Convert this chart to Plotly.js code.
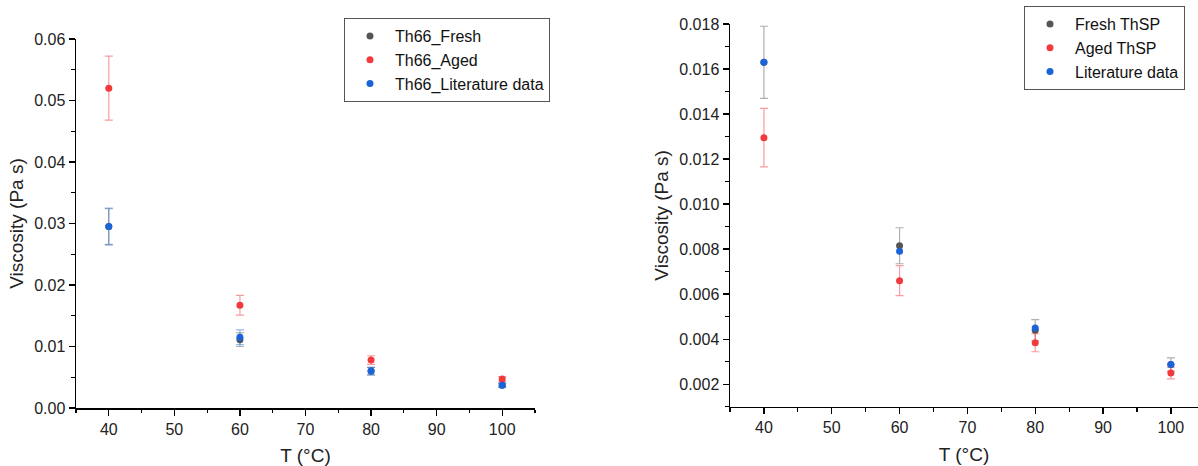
<!DOCTYPE html>
<html>
<head>
<meta charset="utf-8">
<script src="https://cdn.plot.ly/plotly-3.0.1.min.js"></script>
<style>html,body{margin:0;padding:0;background:#fff;}#chart{width:1198px;height:466px;}</style>
</head>
<body>
<div id="chart"></div>
<script>
// ---- data ----
const temps = [40, 60, 80, 100];

// left panel (Th66)
const th66Fresh = [0.0295, 0.0111, 0.0060, 0.0037];
const th66FreshErr = [0.0029, 0.0011, 0.0006, 0.0003];
const th66Aged = [0.0520, 0.0167, 0.0078, 0.0047];
const th66AgedErr = [0.0052, 0.0016, 0.0007, 0.0004];
const th66Lit = [0.0295, 0.0115, 0.0060, 0.0037];
const th66LitErr = [0.0030, 0.0012, 0.0006, 0.0003];

// right panel (ThSP)
const thspFresh = [0.0163, 0.00815, 0.0044, 0.00287];
const thspFreshErr = [0.0016, 0.0008, 0.00047, 0.0003];
const thspAged = [0.01295, 0.0066, 0.00384, 0.0025];
const thspAgedErr = [0.0013, 0.00067, 0.0004, 0.00026];
const thspLit = [0.0163, 0.0079, 0.0045, 0.00287];

const leftNames = ['Th66_Fresh', 'Th66_Aged', 'Th66_Literature data'];
const rightNames = ['Fresh ThSP', 'Aged ThSP', 'Literature data'];

// ---- styles ----
const cGray = '#555555', cRed = '#f2393c', cBlue = '#1b63d8';
const eGray = 'rgba(110,110,110,0.55)', eRed = 'rgba(242,57,60,0.5)', eBlue = 'rgba(27,99,216,0.45)';
const font = 'Liberation Sans, Arial, sans-serif';

function tr(x, y, err, name, color, ecolor, xa, ya, leg) {
  const t = {
    x: x, y: y, name: name, type: 'scatter', mode: 'markers',
    xaxis: xa, yaxis: ya, legend: leg,
    marker: {color: color, size: 7}
  };
  if (err) t.error_y = {type: 'data', array: err, visible: true, color: ecolor, thickness: 1.2, width: 4};
  return t;
}

const data = [
  tr(temps, th66Fresh, th66FreshErr, leftNames[0], cGray, eGray, 'x', 'y', 'legend'),
  tr(temps, th66Aged, th66AgedErr, leftNames[1], cRed, eRed, 'x', 'y', 'legend'),
  tr(temps, th66Lit, th66LitErr, leftNames[2], cBlue, eBlue, 'x', 'y', 'legend'),
  tr(temps, thspFresh, thspFreshErr, rightNames[0], cGray, eGray, 'x2', 'y2', 'legend2'),
  tr(temps, thspAged, thspAgedErr, rightNames[1], cRed, eRed, 'x2', 'y2', 'legend2'),
  tr(temps, thspLit, null, rightNames[2], cBlue, eBlue, 'x2', 'y2', 'legend2')
];

const W = 1198, H = 466;
function axBase() {
  return {
    showline: true, linecolor: '#000', linewidth: 1.5, ticks: 'outside', ticklen: 6,
    tickwidth: 1.3, tickcolor: '#000', showgrid: false, zeroline: false,
    tickfont: {family: font, size: 16, color: '#222'},
    title: {font: {family: font, size: 19, color: '#222'}}
  };
}

const xa = Object.assign(axBase(), {
  domain: [76 / W, 535 / W], range: [35, 105], dtick: 10, tick0: 0, anchor: 'y',
  minor: {dtick: 5, ticklen: 3.5, tickcolor: '#000', tickwidth: 1.1, ticks: 'outside'},
});
xa.title.text = 'T (°C)'; xa.title.standoff = 12;
const ya = Object.assign(axBase(), {
  domain: [1 - 408 / H, 1 - 39 / H], range: [0, 0.06], dtick: 0.01, tick0: 0, tickformat: '.2f', anchor: 'x',
  minor: {dtick: 0.005, ticklen: 3.5, tickcolor: '#000', tickwidth: 1.1, ticks: 'outside'},
});
ya.title.text = 'Viscosity (Pa s)'; ya.title.standoff = 5;

const xa2 = Object.assign(axBase(), {
  domain: [730 / W, 1], range: [35, 104], dtick: 10, tick0: 0, anchor: 'y2',
  minor: {dtick: 5, ticklen: 3.5, tickcolor: '#000', tickwidth: 1.1, ticks: 'outside'},
});
xa2.title.text = 'T (°C)'; xa2.title.standoff = 12;
const ya2 = Object.assign(axBase(), {
  domain: [1 - 406.7 / H, 1 - 24 / H], range: [0.001, 0.018], dtick: 0.002, tick0: 0, tickformat: '.3f', anchor: 'x2',
  minor: {dtick: 0.001, ticklen: 3.5, tickcolor: '#000', tickwidth: 1.1, ticks: 'outside'},
});
ya2.title.text = 'Viscosity (Pa s)'; ya2.title.standoff = 5;

const legBase = {
  bgcolor: '#fff', bordercolor: '#555', borderwidth: 1,
  font: {family: font, size: 16, color: '#111'},
  xanchor: 'left', yanchor: 'top', itemwidth: 40, tracegroupgap: 0
};

const layout = {
  width: W, height: H, margin: {l: 0, r: 0, t: 0, b: 0},
  paper_bgcolor: '#fff', plot_bgcolor: '#fff',
  showlegend: true,
  xaxis: xa, yaxis: ya, xaxis2: xa2, yaxis2: ya2,
  legend: Object.assign({}, legBase, {x: 344 / W, y: 1 - 18 / H}),
  legend2: Object.assign({}, legBase, {x: 1024 / W, y: 1 - 6 / H})
};

Plotly.newPlot('chart', data, layout, {displayModeBar: false, staticPlot: true});
</script>
</body>
</html>
